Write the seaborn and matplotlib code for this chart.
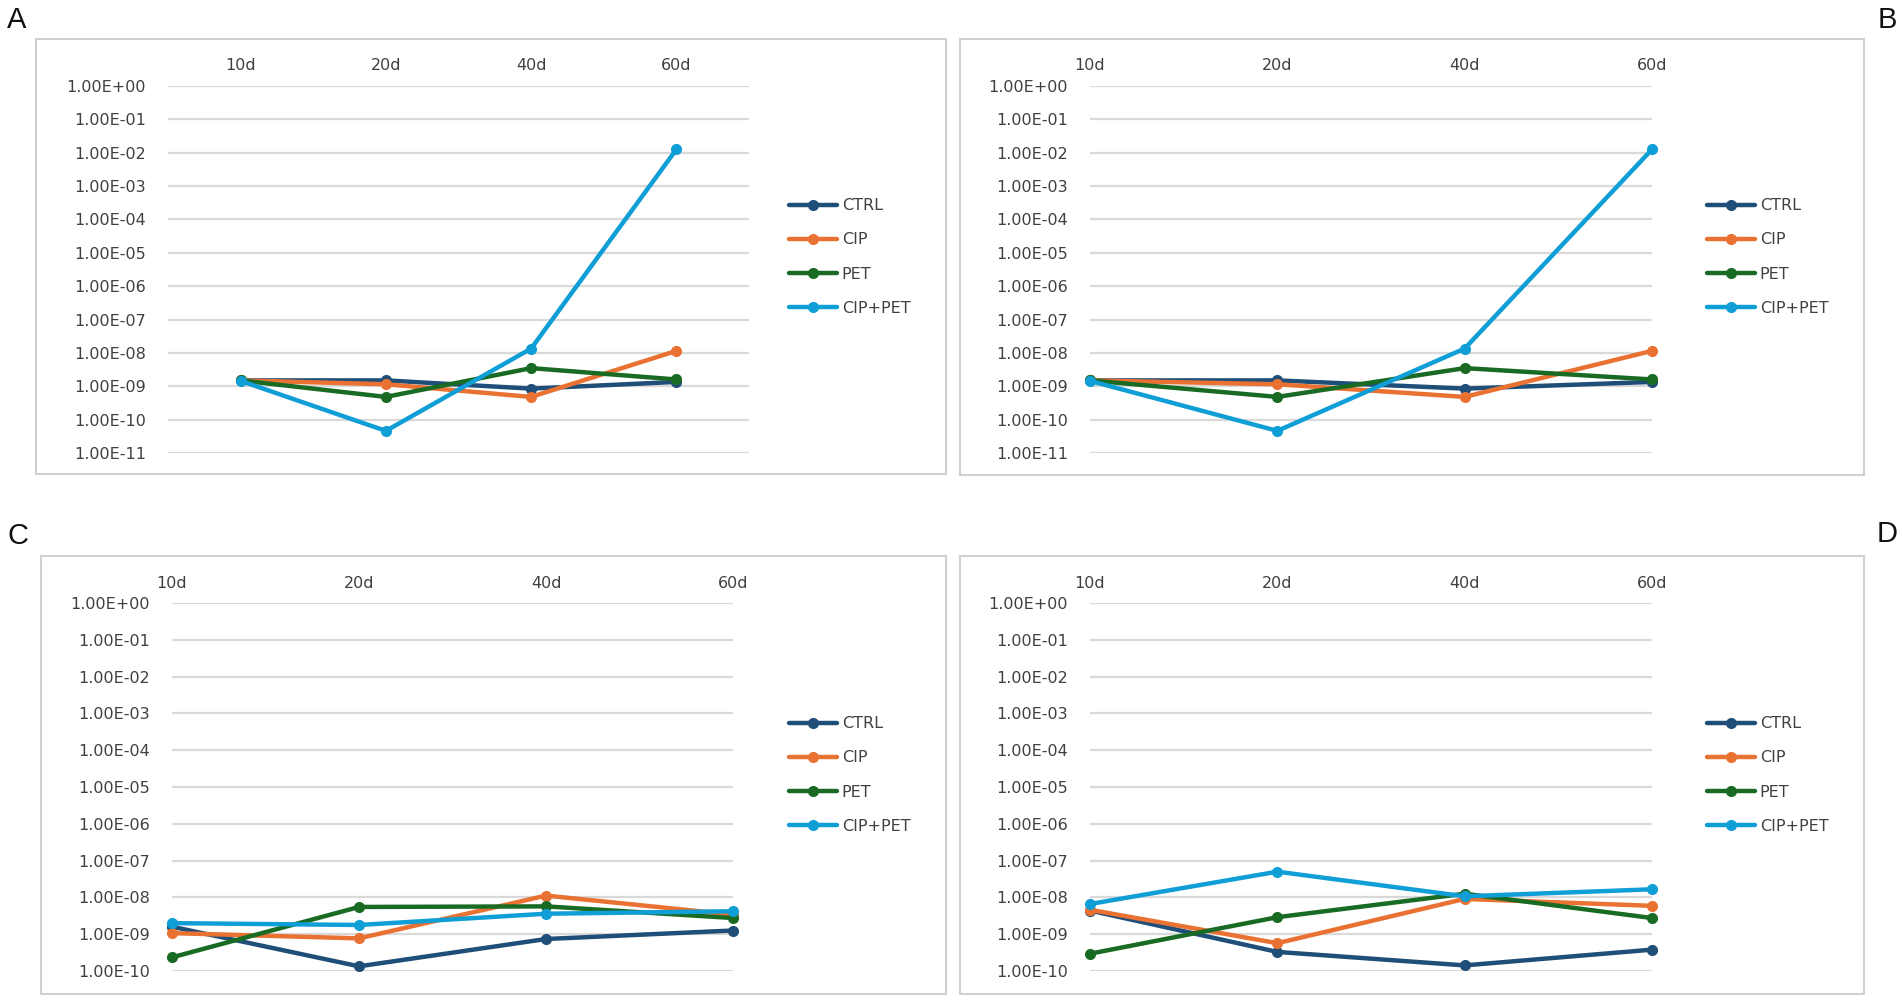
import numpy as np
import pandas as pd
import matplotlib
matplotlib.use("Agg")
import matplotlib.pyplot as plt
from matplotlib.lines import Line2D
from matplotlib.patches import Rectangle
import seaborn as sns

# ---------------- data ----------------
days = ["10d", "20d", "40d", "60d"]
groups = ["CTRL", "CIP", "PET", "CIP+PET"]
colors = ["#1F4E79", "#E97132", "#196B24", "#0F9ED5"]

a_ctrl = [1.5e-9, 1.5e-9, 8.5e-10, 1.35e-9]
a_cip = [1.5e-9, 1.15e-9, 4.8e-10, 1.15e-8]
a_pet = [1.5e-9, 4.8e-10, 3.5e-9, 1.6e-9]
a_cippet = [1.45e-9, 4.6e-11, 1.35e-8, 1.26e-2]

b_ctrl = [1.5e-9, 1.5e-9, 8.5e-10, 1.35e-9]
b_cip = [1.5e-9, 1.15e-9, 4.8e-10, 1.15e-8]
b_pet = [1.5e-9, 4.8e-10, 3.5e-9, 1.6e-9]
b_cippet = [1.45e-9, 4.6e-11, 1.35e-8, 1.26e-2]

c_ctrl = [1.6e-9, 1.34e-10, 7.4e-10, 1.26e-9]
c_cip = [1.07e-9, 7.7e-10, 1.12e-8, 3.4e-9]
c_pet = [2.35e-10, 5.5e-9, 5.7e-9, 2.75e-9]
c_cippet = [2.0e-9, 1.78e-9, 3.6e-9, 4.2e-9]

d_ctrl = [4.4e-9, 3.3e-10, 1.42e-10, 3.8e-10]
d_cip = [4.6e-9, 5.7e-10, 9.1e-9, 5.9e-9]
d_pet = [2.95e-10, 2.9e-9, 1.26e-8, 2.75e-9]
d_cippet = [6.6e-9, 5.0e-8, 1.07e-8, 1.66e-8]

yticks_ab = [10.0 ** -k for k in range(0, 12)]
yticks_cd = [10.0 ** -k for k in range(0, 11)]

# ---------------- style ----------------
sns.set_theme(style="white")
plt.rcParams["font.family"] = ["DejaVu Sans"]
FS = 11.5
TXT = "#404040"

W, H = 1902, 1001
fig = plt.figure(figsize=(W / 100, H / 100), dpi=100)


def frac(x0, y0, x1, y1):
    return [x0 / W, 1 - y1 / H, (x1 - x0) / W, (y1 - y0) / H]


def make_df(series):
    rows = []
    for g, vals in zip(groups, series):
        for d, v in zip(days, vals):
            rows.append({"day": d, "group": g, "value": v})
    return pd.DataFrame(rows)


def panel(series, box, axrect, xlim, ylim, yticks, leg_xy, label, label_xy):
    # outer frame
    bx0, by0, bx1, by1 = box
    fig.add_artist(Rectangle((bx0 / W, 1 - by1 / H), (bx1 - bx0) / W, (by1 - by0) / H,
                             transform=fig.transFigure, fill=False,
                             edgecolor="#d0d0d0", linewidth=1.5))
    ax = fig.add_axes(frac(*axrect))
    df = make_df(series)
    sns.lineplot(data=df, x="day", y="value", hue="group", hue_order=groups,
                 palette=colors, marker="o", markersize=8, markeredgewidth=0,
                 linewidth=3.2, sort=False, legend=False, ax=ax, zorder=3)
    for ln in ax.lines:
        ln.set_clip_on(False)
    ax.set_yscale("log")
    ax.set_ylim(*ylim)
    ax.set_xlim(*xlim)
    ax.set_yticks(yticks)
    ax.set_yticklabels([f"{v:.2E}" for v in yticks])
    ax.yaxis.set_minor_locator(matplotlib.ticker.NullLocator())
    ax.set_xticks(range(len(days)))
    ax.set_xticklabels(days)
    ax.xaxis.tick_top()
    ax.tick_params(axis="x", length=0, pad=9, labelsize=FS, labelcolor=TXT)
    ax.tick_params(axis="y", length=0, pad=16, labelsize=FS, labelcolor=TXT)
    for t in ax.get_yticklabels():
        t.set_horizontalalignment("right")
    ax.set_xlabel("")
    ax.set_ylabel("")
    for s in ax.spines.values():
        s.set_visible(False)
    ax.grid(axis="y", color="#d9d9d9", linewidth=1.6, zorder=0)
    ax.grid(axis="x", visible=False)
    ax.set_axisbelow(True)
    ax.patch.set_alpha(0)

    handles = [Line2D([0], [0], color=c, linewidth=3.2, marker="o", markersize=8,
                      markeredgewidth=0) for c in colors]
    lx, ly = leg_xy
    fig.legend(handles, groups, loc="center left",
               bbox_to_anchor=(lx / W, 1 - ly / H), frameon=False,
               fontsize=FS, handlelength=3.0, handletextpad=0.3,
               labelspacing=1.2, borderpad=0, borderaxespad=0,
               labelcolor=TXT)
    fig.text(label_xy[0] / W, 1 - label_xy[1] / H, label, fontsize=21,
             family=["Liberation Sans"], ha="center", va="center", color="#111111")
    return ax


panel([a_ctrl, a_cip, a_pet, a_cippet], (36, 39, 946, 474), (168, 86, 749, 453),
      (-0.5, 3.5), (1e-11, 1e0), yticks_ab, (789, 257), "A", (17, 20))
panel([b_ctrl, b_cip, b_pet, b_cippet], (960, 39, 1864, 475), (1090, 86, 1652, 453),
      (0, 3), (1e-11, 1e0), yticks_ab, (1707, 257), "B", (1887, 20))
panel([c_ctrl, c_cip, c_pet, c_cippet], (41, 556, 946, 994), (172, 603, 733, 971),
      (0, 3), (1e-10, 1e0), yticks_cd, (789, 775), "C", (18, 536))
panel([d_ctrl, d_cip, d_pet, d_cippet], (960, 556, 1864, 994), (1090, 603, 1652, 971),
      (0, 3), (1e-10, 1e0), yticks_cd, (1707, 775), "D", (1887, 534))

fig.savefig("out.png", dpi=100, facecolor="white")
